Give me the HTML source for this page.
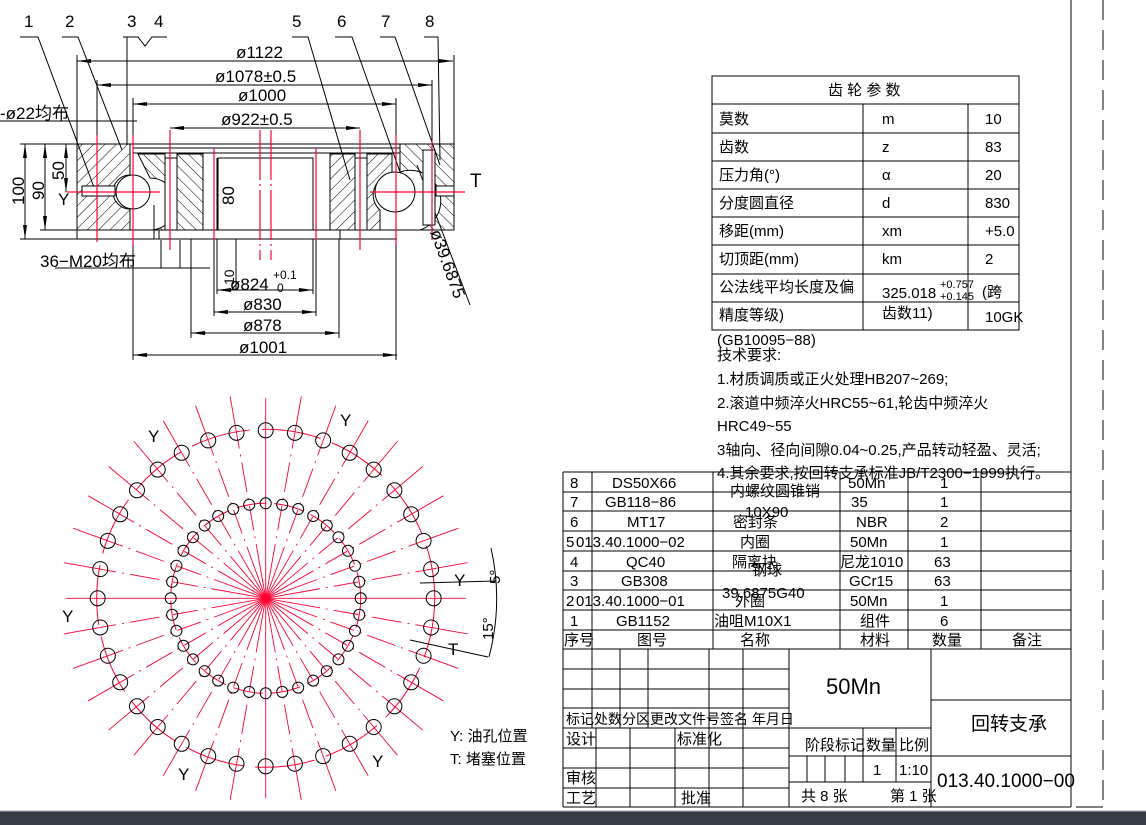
<!DOCTYPE html>
<html><head><meta charset="utf-8"><style>
html,body{margin:0;padding:0;background:#fff;width:1146px;height:825px;overflow:hidden}
svg{display:block}
text{font-family:"Liberation Sans","Noto Sans CJK SC",sans-serif;fill:#000}
.d{font-size:17px}
.t{font-size:15px}
</style></head><body>
<svg id="s" width="1146" height="825" viewBox="0 0 1146 825" xmlns="http://www.w3.org/2000/svg">
<defs>
<pattern id="h" width="8" height="8" patternUnits="userSpaceOnUse" patternTransform="rotate(45)"><line x1="0" y1="0" x2="0" y2="8" stroke="#000" stroke-width="1"/></pattern>
<pattern id="h2" width="8" height="8" patternUnits="userSpaceOnUse" patternTransform="rotate(-45)"><line x1="0" y1="0" x2="0" y2="8" stroke="#000" stroke-width="1"/></pattern>
<marker id="a" markerWidth="14" markerHeight="6" refX="14" refY="3" orient="auto" markerUnits="userSpaceOnUse"><path d="M0,1 L14,3 L0,5z" fill="#000"/></marker>
</defs>
<g stroke="#000" fill="none" stroke-width="1">
<polyline points="20,37 38,37 95,190"/><polyline points="62,37 78,37 122,150"/>
<polyline points="123,37 127,37 127,145"/><polyline points="127,37 138,37 145,46 152,37 167,37"/>
<polyline points="292,37 308,37 350,180"/><polyline points="335,37 352,37 410,200"/>
<polyline points="380,37 395,37 440,165"/><polyline points="424,37 438,37 440,160"/>
<line x1="417" y1="165" x2="470" y2="305"/>
<line x1="77" y1="61" x2="453" y2="61" marker-end="url(#a)"/><line x1="453" y1="61" x2="77" y2="61" marker-end="url(#a)"/>
<line x1="97" y1="85" x2="432" y2="85" marker-end="url(#a)"/><line x1="432" y1="85" x2="97" y2="85" marker-end="url(#a)"/>
<line x1="133" y1="104" x2="396" y2="104" marker-end="url(#a)"/><line x1="396" y1="104" x2="133" y2="104" marker-end="url(#a)"/>
<line x1="170" y1="128" x2="360" y2="128" marker-end="url(#a)"/><line x1="360" y1="128" x2="170" y2="128" marker-end="url(#a)"/>
<line x1="217" y1="290" x2="313" y2="290" marker-end="url(#a)"/><line x1="313" y1="290" x2="217" y2="290" marker-end="url(#a)"/>
<line x1="214" y1="312" x2="316" y2="312" marker-end="url(#a)"/><line x1="316" y1="312" x2="214" y2="312" marker-end="url(#a)"/>
<line x1="191" y1="333" x2="339" y2="333" marker-end="url(#a)"/><line x1="339" y1="333" x2="191" y2="333" marker-end="url(#a)"/>
<line x1="133" y1="355" x2="397" y2="355" marker-end="url(#a)"/><line x1="397" y1="355" x2="133" y2="355" marker-end="url(#a)"/>
<line x1="77" y1="55" x2="77" y2="239"/><line x1="454" y1="55" x2="454" y2="144"/>
<line x1="97" y1="80" x2="97" y2="144"/><line x1="432" y1="80" x2="432" y2="144"/>
<line x1="133" y1="98" x2="133" y2="360"/><line x1="396" y1="98" x2="396" y2="360"/>
<line x1="214" y1="230" x2="214" y2="316"/><line x1="316" y1="230" x2="316" y2="316"/>
<line x1="191" y1="230" x2="191" y2="338"/><line x1="339" y1="230" x2="339" y2="338"/>
<line x1="217" y1="158" x2="217" y2="294"/><line x1="313" y1="158" x2="313" y2="294"/>
<line x1="0" y1="121" x2="137" y2="121"/><line x1="55" y1="268" x2="210" y2="268"/>
<line x1="161" y1="240" x2="161" y2="268"/><line x1="180" y1="240" x2="180" y2="268"/>
<line x1="25" y1="144" x2="25" y2="239" marker-end="url(#a)"/><line x1="25" y1="239" x2="25" y2="144" marker-end="url(#a)"/>
<line x1="45" y1="144" x2="45" y2="230" marker-end="url(#a)"/><line x1="45" y1="230" x2="45" y2="144" marker-end="url(#a)"/>
<line x1="66" y1="144" x2="66" y2="192" marker-end="url(#a)"/><line x1="66" y1="192" x2="66" y2="144" marker-end="url(#a)"/>
<line x1="236" y1="158" x2="236" y2="230" marker-end="url(#a)"/><line x1="236" y1="230" x2="236" y2="158" marker-end="url(#a)"/>
<line x1="236" y1="230" x2="236" y2="290"/>
<line x1="154" y1="205" x2="154" y2="239"/>
<line x1="20" y1="144" x2="454" y2="144"/><line x1="20" y1="239" x2="397" y2="239"/><line x1="40" y1="230" x2="454" y2="230"/>
<line x1="133" y1="148" x2="400" y2="148"/><line x1="133" y1="153" x2="400" y2="153"/>
</g>
<g stroke="#000" stroke-width="1">
<path d="M77,144 H130 V175 A17,17 0 0 0 130,209 V230 H77 Z" fill="url(#h)"/>
<path d="M138,154 H165 V230 H150 A17,17 0 0 0 150,178 Z" fill="url(#h2)"/>
<rect x="165" y="158" width="12" height="72" fill="#fff"/>
<rect x="177" y="154" width="26" height="76" fill="url(#h2)"/>
<rect x="218" y="158" width="95" height="72" fill="#fff"/>
<rect x="330" y="154" width="25" height="76" fill="url(#h)"/>
<rect x="355" y="158" width="12" height="72" fill="#fff"/>
<path d="M367,154 H392 V175 A20,20 0 0 0 380,210 V230 H367 Z" fill="url(#h)"/>
<path d="M400,144 H454 V230 H420 A20,20 0 0 0 400,172 Z" fill="url(#h2)"/>
<rect x="423" y="150" width="12" height="75" fill="#fff"/>
<circle cx="133" cy="192" r="17" fill="#fff"/>
<circle cx="395" cy="192" r="20" fill="#fff"/>
<rect x="82" y="186" width="33" height="10" fill="#fff"/>
<rect x="436" y="186" width="18" height="10" fill="#fff"/>
<rect x="159" y="230" width="181" height="9" fill="#fff"/>
</g>
<g stroke="#ff0033" stroke-width="1.2">
<line x1="97" y1="135" x2="97" y2="242"/><line x1="133" y1="135" x2="133" y2="245"/>
<line x1="170" y1="130" x2="170" y2="250"/><line x1="214" y1="148" x2="214" y2="240"/>
<line x1="316" y1="148" x2="316" y2="240"/><line x1="360" y1="130" x2="360" y2="250"/>
<line x1="396" y1="135" x2="396" y2="245"/><line x1="432" y1="140" x2="432" y2="240"/>
<line x1="260" y1="130" x2="260" y2="260" stroke-dasharray="50 4 2 4"/><line x1="271" y1="130" x2="271" y2="260" stroke-dasharray="50 4 2 4"/>
<line x1="67" y1="192" x2="160" y2="192"/><line x1="370" y1="192" x2="465" y2="192"/>
</g>
<g class="d">
<text x="236" y="58">ø1122</text><text x="215" y="82">ø1078±0.5</text>
<text x="238" y="101">ø1000</text><text x="221" y="125">ø922±0.5</text>
<text x="230" y="290">ø824</text><text x="273" y="279" font-size="12">+0.1</text><text x="277" y="292" font-size="12">0</text>
<text x="243" y="310">ø830</text><text x="243" y="331">ø878</text><text x="239" y="353">ø1001</text>
<text x="40" y="267">36−M20均布</text><text x="0" y="119">-ø22均布</text>
<text x="24" y="27">1</text><text x="65" y="27">2</text><text x="127" y="27">3</text><text x="154" y="27">4</text>
<text x="292" y="27">5</text><text x="337" y="27">6</text><text x="381" y="27">7</text><text x="425" y="27">8</text>
<text x="470" y="187" font-size="19">T</text><text x="58" y="205">Y</text>
<text transform="translate(24,205) rotate(-90)">100</text>
<text transform="translate(44,200) rotate(-90)">90</text>
<text transform="translate(64,180) rotate(-90)">50</text>
<text transform="translate(234,205) rotate(-90)">80</text>
<text transform="translate(430,232) rotate(70)">ø39.6875</text>
<text transform="translate(234,285) rotate(-90)" font-size="14">10</text>
</g>
<g stroke="#000" fill="none">
<rect x="712" y="76" width="307" height="254"/>
<line x1="712" y1="104" x2="1019" y2="104"/><line x1="712" y1="133" x2="1019" y2="133"/>
<line x1="712" y1="161" x2="1019" y2="161"/><line x1="712" y1="189" x2="1019" y2="189"/>
<line x1="712" y1="217" x2="1019" y2="217"/><line x1="712" y1="245" x2="1019" y2="245"/>
<line x1="712" y1="274" x2="1019" y2="274"/><line x1="712" y1="302" x2="1019" y2="302"/>
<line x1="863" y1="104" x2="863" y2="330"/><line x1="968" y1="104" x2="968" y2="330"/>
</g>
<g class="t">
<text x="828" y="95">齿 轮 参 数</text>
<text x="719" y="124">莫数</text><text x="882" y="124">m</text><text x="985" y="124">10</text>
<text x="719" y="152">齿数</text><text x="882" y="152">z</text><text x="985" y="152">83</text>
<text x="719" y="180">压力角(°)</text><text x="882" y="180">α</text><text x="985" y="180">20</text>
<text x="719" y="208">分度圆直径</text><text x="882" y="208">d</text><text x="985" y="208">830</text>
<text x="719" y="236">移距(mm)</text><text x="882" y="236">xm</text><text x="985" y="236">+5.0</text>
<text x="719" y="264">切顶距(mm)</text><text x="882" y="264">km</text><text x="985" y="264">2</text>
<text x="719" y="292">公法线平均长度及偏</text><text x="882" y="298">325.018</text>
<text x="940" y="288" font-size="11">+0.757</text><text x="940" y="300" font-size="11">+0.145</text><text x="982" y="297">(跨</text>
<text x="719" y="320">精度等级)</text><text x="882" y="318">齿数11)</text><text x="985" y="322">10GK</text>
<text x="717" y="345">(GB10095−88)</text>
<text x="717" y="360">技术要求:</text>
<text x="717" y="384">1.材质调质或正火处理HB207~269;</text>
<text x="717" y="408">2.滚道中频淬火HRC55~61,轮齿中频淬火</text>
<text x="717" y="431">HRC49~55</text>
<text x="717" y="455">3轴向、径向间隙0.04~0.25,产品转动轻盈、灵活;</text>
<text x="717" y="478">4.其余要求,按回转支承标准JB/T2300−1999执行。</text>
</g>
<line x1="1071" y1="0" x2="1071" y2="807" stroke="#000"/>
<line x1="1103" y1="0" x2="1103" y2="807" stroke="#000" stroke-dasharray="20 10"/>
<line x1="1076" y1="807" x2="1103" y2="807" stroke="#000"/>
<rect x="0" y="811" width="1146" height="14" fill="#363c46"/>
<line x1="0" y1="811" x2="1146" y2="811" stroke="#aab" />
<g stroke="#000" fill="none">
<line x1="563" y1="472" x2="1071" y2="472"/>
<line x1="563" y1="492" x2="1071" y2="492"/><line x1="563" y1="511" x2="1071" y2="511"/>
<line x1="563" y1="531" x2="1071" y2="531"/><line x1="563" y1="551" x2="1071" y2="551"/>
<line x1="563" y1="571" x2="1071" y2="571"/><line x1="563" y1="590" x2="1071" y2="590"/>
<line x1="563" y1="610" x2="1071" y2="610"/><line x1="563" y1="630" x2="1071" y2="630"/>
<line x1="563" y1="649" x2="1071" y2="649"/>
<line x1="563" y1="472" x2="563" y2="807"/><line x1="592" y1="472" x2="592" y2="649"/>
<line x1="713" y1="472" x2="713" y2="649"/><line x1="840" y1="472" x2="840" y2="649"/>
<line x1="908" y1="472" x2="908" y2="649"/><line x1="981" y1="472" x2="981" y2="649"/>
<line x1="563" y1="669" x2="789" y2="669"/><line x1="563" y1="689" x2="789" y2="689"/>
<line x1="563" y1="708" x2="789" y2="708"/><line x1="563" y1="728" x2="931" y2="728"/>
<line x1="563" y1="748" x2="789" y2="748"/><line x1="563" y1="768" x2="789" y2="768"/>
<line x1="563" y1="788" x2="789" y2="788"/><line x1="563" y1="807" x2="1071" y2="807"/>
<line x1="592" y1="649" x2="592" y2="728"/><line x1="620" y1="649" x2="620" y2="728"/>
<line x1="648" y1="649" x2="648" y2="728"/><line x1="709" y1="649" x2="709" y2="807"/>
<line x1="743" y1="649" x2="743" y2="807"/><line x1="789" y1="649" x2="789" y2="807"/>
<line x1="596" y1="728" x2="596" y2="807"/><line x1="630" y1="728" x2="630" y2="807"/>
<line x1="675" y1="728" x2="675" y2="807"/>
<line x1="931" y1="649" x2="931" y2="807"/><line x1="931" y1="700" x2="1071" y2="700"/>
<line x1="789" y1="756" x2="1071" y2="756"/><line x1="789" y1="782" x2="931" y2="782"/>
<line x1="863" y1="728" x2="863" y2="782"/><line x1="896" y1="728" x2="896" y2="782"/>
<line x1="807" y1="756" x2="807" y2="782"/><line x1="825" y1="756" x2="825" y2="782"/>
<line x1="845" y1="756" x2="845" y2="782"/>
</g>
<g class="t">
<text x="570" y="488">8</text><text x="612" y="488">DS50X66</text><text x="730" y="496">内螺纹圆锥销</text><text x="848" y="488">50Mn</text><text x="940" y="488">1</text>
<text x="570" y="507">7</text><text x="605" y="507">GB118−86</text><text x="851" y="507">35</text><text x="940" y="507">1</text>
<text x="570" y="527">6</text><text x="627" y="527">MT17</text><text x="745" y="517">10X90</text><text x="733" y="527">密封条</text><text x="856" y="527">NBR</text><text x="940" y="527">2</text>
<text x="566" y="547">5</text><text x="576" y="547">013.40.1000−02</text><text x="740" y="547">内圈</text><text x="850" y="547">50Mn</text><text x="940" y="547">1</text>
<text x="570" y="567">4</text><text x="626" y="567">QC40</text><text x="732" y="567">隔离块</text><text x="840" y="567">尼龙1010</text><text x="934" y="567">63</text>
<text x="570" y="586">3</text><text x="621" y="586">GB308</text><text x="752" y="575">钢球</text><text x="849" y="586">GCr15</text><text x="934" y="586">63</text>
<text x="566" y="606">2</text><text x="576" y="606">013.40.1000−01</text><text x="722" y="598">39.6875G40</text><text x="735" y="606">外圈</text><text x="850" y="606">50Mn</text><text x="940" y="606">1</text>
<text x="570" y="626">1</text><text x="616" y="626">GB1152</text><text x="714" y="626">油咀M10X1</text><text x="860" y="626">组件</text><text x="940" y="626">6</text>
<text x="564" y="645">序号</text><text x="637" y="645">图号</text><text x="740" y="645">名称</text><text x="860" y="645">材料</text><text x="932" y="645">数量</text><text x="1012" y="645">备注</text>
<text x="566" y="724" font-size="14">标记处数分区更改文件号签名 年月日</text>
<text x="566" y="744">设计</text><text x="677" y="744">标准化</text>
<text x="566" y="783">审核</text><text x="566" y="803">工艺</text><text x="681" y="803">批准</text>
<text x="805" y="750">阶段标记</text><text x="866" y="750">数量</text><text x="899" y="750">比例</text>
<text x="873" y="775">1</text><text x="899" y="775">1:10</text>
<text x="801" y="801">共 8 张</text><text x="890" y="801">第 1 张</text>
<text x="971" y="730" font-size="19">回转支承</text>
<text x="937" y="787" font-size="19">013.40.1000−00</text>
<text x="826" y="694" font-size="22">50Mn</text>
</g>
<g id="cv"></g>
<g class="d">
<text x="340" y="426">Y</text><text x="148" y="442">Y</text><text x="62" y="622">Y</text>
<text x="178" y="780">Y</text><text x="372" y="767">Y</text>
<text x="454" y="586">Y</text><text x="448" y="655">T</text>
<text transform="translate(500,584) rotate(-90)" font-size="15">5°</text>
<text transform="translate(493,640) rotate(-90)" font-size="15">15°</text>
<text x="450" y="741" class="t">Y: 油孔位置</text><text x="450" y="764" class="t">T: 堵塞位置</text>
</g>
<g stroke="#000" fill="none">
<line x1="420" y1="583" x2="496" y2="581"/><line x1="410" y1="640" x2="488" y2="657"/>
<path d="M491,548 A230,230 0 0 1 489,657"/>
</g>
</svg>
<script>
(function(){
var g=document.getElementById('cv'),cx=265.7,cy=598.3,h='';
h+='<circle cx="'+cx+'" cy="'+cy+'" r="169" fill="none" stroke="#ff0033" stroke-width="1" stroke-dasharray="60 12"/>';
h+='<circle cx="'+cx+'" cy="'+cy+'" r="95" fill="none" stroke="#ff0033" stroke-width="1" stroke-dasharray="30 8"/>';
for(var i=0;i<36;i++){var a=i*10*Math.PI/180,c=Math.cos(a),s=Math.sin(a);
var L=(i%9==0)?200:205;
h+='<line x1="'+cx+'" y1="'+cy+'" x2="'+(cx+L*c)+'" y2="'+(cy+L*s)+'" stroke="#ff0033" stroke-width="0.9" stroke-dasharray="'+(i%9==0?'400':'55 6 2 6 25 6 2 6 30 6 2 6 200')+'"/>';}
for(var i=0;i<36;i++){var a=(i*10+90)*Math.PI/180;
h+='<circle cx="'+(cx+168*Math.cos(a))+'" cy="'+(cy-168*Math.sin(a))+'" r="7.5" fill="none" stroke="#000"/>';
h+='<circle cx="'+(cx+95*Math.cos(a))+'" cy="'+(cy-95*Math.sin(a))+'" r="5.5" fill="none" stroke="#000"/>';}
g.innerHTML=h;
})();
</script>
</body></html>
